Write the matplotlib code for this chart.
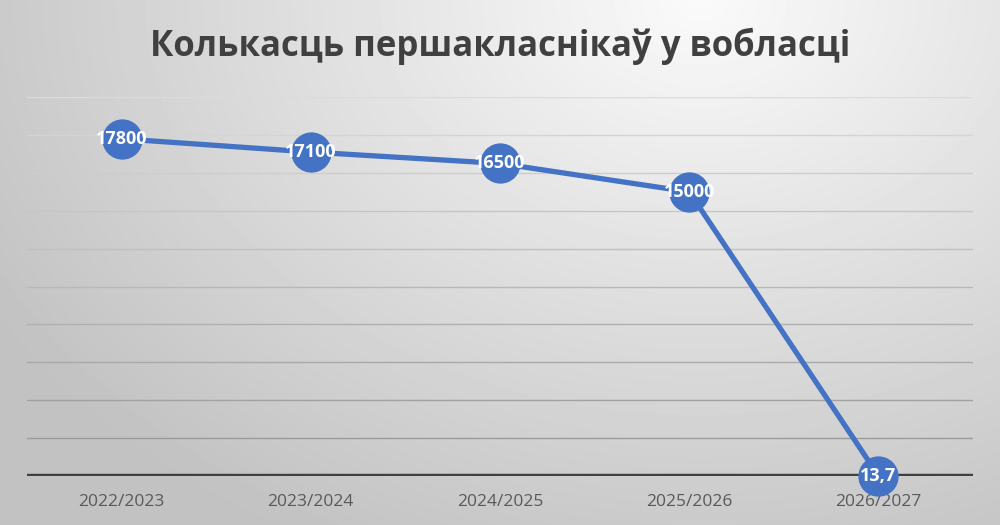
import numpy as np
import matplotlib.pyplot as plt

# data
years = ["2022/2023", "2023/2024", "2024/2025", "2025/2026", "2026/2027"]
pupils = [17800, 17100, 16500, 15000, 13.7]
labels = ["17800", "17100", "16500", "15000", "13,7"]
title = "Колькасць першакласнікаў у вобласці"

plt.rcParams['font.family'] = ['Open Sans', 'DejaVu Sans']

fig = plt.figure(figsize=(10, 5.25), dpi=100)

# radial gradient background
bg = fig.add_axes([0, 0, 1, 1], zorder=0)
yy, xx = np.mgrid[0:525, 0:1000]
r = np.sqrt(((xx - 700) / 750.0) ** 2 + ((yy - 0) / 560.0) ** 2)
shade = np.clip(0.98 - 0.20 * r, 0.76, 1.0)
bg.imshow(shade, cmap="gray", vmin=0, vmax=1, aspect="auto",
          extent=(0, 1, 0, 1), origin="upper")
bg.axis("off")

ax = fig.add_axes([0.027, 0.0933, 0.946, 0.7217], zorder=1)
ax.patch.set_alpha(0)
x = np.arange(len(years))
ax.set_xlim(-0.5, len(years) - 0.5)
ax.set_ylim(0, 20000)

# gridlines, getting darker towards the bottom
for g in range(2000, 20001, 2000):
    c = 0.86 - 0.28 * (1 - g / 20000)
    ax.axhline(g, color=(c, c, c), lw=1.0, zorder=1)
ax.axhline(0, color="#404040", lw=3.2, zorder=2)

ax.plot(x, pupils, color="#4472c4", lw=3.8, marker="o", markersize=28,
        markerfacecolor="#4472c4", markeredgecolor="#4472c4", zorder=3,
        clip_on=False)
for xi, yi, lab in zip(x, pupils, labels):
    ax.text(xi, yi, lab, ha="center", va="center", color="white",
            fontsize=13, fontweight="bold", zorder=4)

ax.set_xticks(x)
ax.set_xticklabels(years, fontsize=12.5, color="#595959")
ax.tick_params(axis="x", length=0, pad=13)
ax.set_yticks([])
for sp in ax.spines.values():
    sp.set_visible(False)

fig.text(0.5, 0.912, title, ha="center", va="center", fontsize=25,
         fontweight="bold", color="#404040")

fig.savefig("out.png", dpi=100)
